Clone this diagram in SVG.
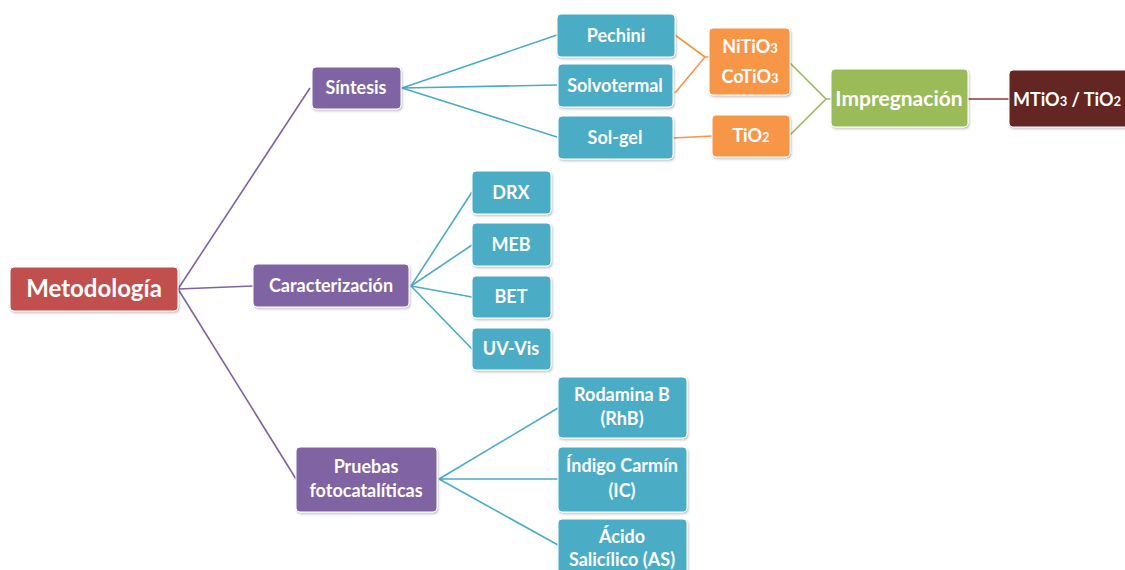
<svg xmlns="http://www.w3.org/2000/svg" width="1125" height="570" viewBox="0 0 1125 570">
<defs>
<style>
.t{font-family:Lato,"Liberation Sans",sans-serif;font-weight:bold;fill:#fff;text-anchor:middle;font-size:18px}
.red{fill:#C0504D}.pur{fill:#8064A2}.tea{fill:#4BACC6}.ora{fill:#F79646}.gre{fill:#9BBB59}.dkr{fill:#632523}
.box{stroke:#fff;stroke-width:1}
.c{fill:none;stroke-width:1.6}
.cp{stroke:#8064A2}.ct{stroke:#4BACC6}.co{stroke:#F79646}.cg{stroke:#9BBB59}.cr{stroke:#953735}
.s{font-size:13px}
</style>
<filter id="sh" x="-10%" y="-10%" width="130%" height="140%">
<feDropShadow dx="1" dy="1.5" stdDeviation="1.2" flood-color="#000" flood-opacity="0.25"/>
</filter>
</defs>
<rect width="1125" height="570" fill="#fff"/>
<g id="connectors">
<path class="c cp" d="M178,289 L310,88 M178,289 L253,286 M178,289 L296,479"/>
<path class="c ct" d="M402,88 L557,35 M402,88 L557,85 M402,88 L557,137"/>
<path class="c ct" d="M411,286 L472,192 M411,286 L472,245 M411,286 L472,297 M411,286 L472,349"/>
<path class="c ct" d="M439,479 L558,408 M439,479 L558,479 M439,479 L558,545"/>
<path class="c co" d="M675,35 L705,57 L675,93 M705,57 L709,57 M673,138 L712,136"/>
<path class="c cg" d="M790,63 L826,99 L790,135 M826,99 L831,99"/>
<path class="c cr" d="M968,99 L1009,99"/>
</g>
<g id="metodologia"><rect class="box red" filter="url(#sh)" x="10" y="267" width="168" height="44" rx="4"/><text class="t" x="94" y="297" style="font-size:24px">Metodología</text></g>
<g id="sintesis"><rect class="box pur" filter="url(#sh)" x="312" y="67" width="89" height="42" rx="4"/><text class="t" x="356" y="94">Síntesis</text></g>
<g id="caracterizacion"><rect class="box pur" filter="url(#sh)" x="253" y="264" width="156" height="43" rx="4"/><text class="t" x="331" y="292">Caracterización</text></g>
<g id="pruebas"><rect class="box pur" filter="url(#sh)" x="296" y="447" width="141" height="65" rx="4"/><text class="t" x="366" y="473">Pruebas</text><text class="t" x="366" y="497">fotocatalíticas</text></g>
<g id="pechini"><rect class="box tea" filter="url(#sh)" x="557" y="14" width="118" height="43" rx="4"/><text class="t" x="616" y="42">Pechini</text></g>
<g id="solvotermal"><rect class="box tea" filter="url(#sh)" x="558" y="64" width="115" height="43" rx="4"/><text class="t" x="615" y="92">Solvotermal</text></g>
<g id="solgel"><rect class="box tea" filter="url(#sh)" x="558" y="116" width="115" height="43" rx="4"/><text class="t" x="615" y="144">Sol-gel</text></g>
<g id="drx"><rect class="box tea" filter="url(#sh)" x="472" y="171" width="79" height="43" rx="4"/><text class="t" x="511" y="199">DRX</text></g>
<g id="meb"><rect class="box tea" filter="url(#sh)" x="472" y="223" width="79" height="43" rx="4"/><text class="t" x="511" y="251">MEB</text></g>
<g id="bet"><rect class="box tea" filter="url(#sh)" x="472" y="276" width="79" height="42" rx="4"/><text class="t" x="511" y="303">BET</text></g>
<g id="uvvis"><rect class="box tea" filter="url(#sh)" x="472" y="328" width="79" height="42" rx="4"/><text class="t" x="511" y="355">UV-Vis</text></g>
<g id="rodamina"><rect class="box tea" filter="url(#sh)" x="558" y="377" width="129" height="61" rx="4"/><text class="t" x="622" y="401">Rodamina B</text><text class="t" x="622" y="425">(RhB)</text></g>
<g id="indigo"><rect class="box tea" filter="url(#sh)" x="558" y="447" width="129" height="65" rx="4"/><text class="t" x="622" y="472">Índigo Carmín</text><text class="t" x="622" y="497">(IC)</text></g>
<g id="acido"><rect class="box tea" filter="url(#sh)" x="558" y="519" width="129" height="60" rx="4"/><text class="t" x="622" y="543">Ácido</text><text class="t" x="622" y="566">Salicílico (AS)</text></g>
<g id="nitio3"><rect class="box ora" filter="url(#sh)" x="709" y="28" width="81" height="67" rx="4"/><text class="t" x="750" y="53">NiTiO<tspan class="s">3</tspan></text><text class="t" x="750" y="83">CoTiO<tspan class="s">3</tspan></text></g>
<g id="tio2"><rect class="box ora" filter="url(#sh)" x="712" y="115" width="78" height="42" rx="4"/><text class="t" x="751" y="142">TiO<tspan class="s">2</tspan></text></g>
<g id="impregnacion"><rect class="box gre" filter="url(#sh)" x="831" y="69" width="137" height="58" rx="4"/><text class="t" x="899" y="106" style="font-size:21px">Impregnación</text></g>
<g id="mtio3"><rect class="box dkr" filter="url(#sh)" x="1009" y="70" width="125" height="57" rx="4"/><text class="t" x="1067" y="106">MTiO<tspan class="s">3</tspan> / TiO<tspan class="s">2</tspan></text></g>
</svg>
